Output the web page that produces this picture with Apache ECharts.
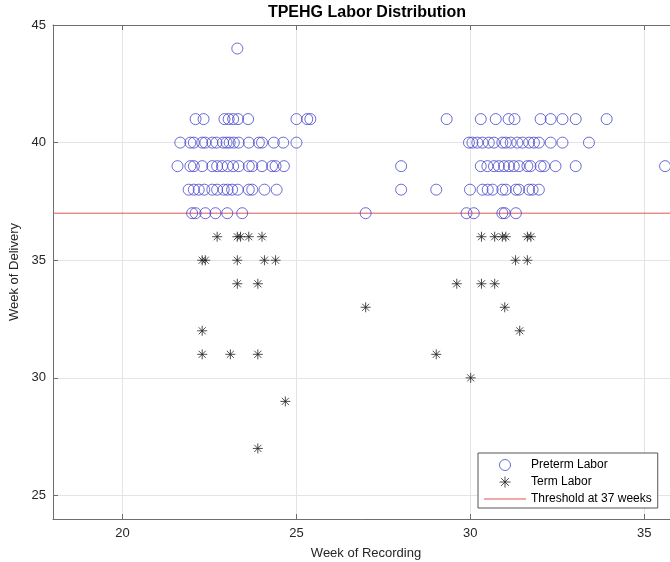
<!DOCTYPE html>
<html>
<head>
<meta charset="utf-8">
<script src="https://cdn.jsdelivr.net/npm/echarts@6/dist/echarts.min.js"></script>
<style>
html,body{margin:0;padding:0;background:#fff;}
#chart{width:670px;height:562px;}
</style>
</head>
<body>
<div id="chart"></div>
<script>
// Preterm Labor (circles): week of recording values grouped by week of delivery
const pre44 = [23.30];
const pre41 = [22.10, 22.33, 22.93, 23.05, 23.18, 23.32, 23.61, 25.00, 25.31, 25.40, 29.32, 30.30, 30.73, 31.10, 31.27, 32.02, 32.31, 32.65, 33.03, 33.92];
const pre40 = [21.66, 21.95, 22.05, 22.29, 22.38, 22.58, 22.70, 22.89, 22.99, 23.08, 23.20, 23.34, 23.63, 23.92, 24.01, 24.35, 24.62, 25.00, 29.96, 30.06, 30.20, 30.35, 30.53, 30.68, 30.92, 31.02, 31.16, 31.35, 31.50, 31.69, 31.83, 31.97, 32.31, 32.65, 33.41];
const pre39 = [21.58, 21.95, 22.05, 22.29, 22.58, 22.72, 22.86, 23.02, 23.18, 23.34, 23.63, 23.73, 24.01, 24.30, 24.40, 24.64, 28.01, 30.30, 30.49, 30.68, 30.82, 30.97, 31.11, 31.25, 31.40, 31.64, 31.73, 32.02, 32.12, 32.45, 33.03, 35.60];
const pre38 = [21.90, 22.05, 22.19, 22.35, 22.58, 22.72, 22.91, 23.02, 23.15, 23.31, 23.63, 23.73, 24.08, 24.43, 28.01, 29.02, 29.99, 30.35, 30.50, 30.64, 30.92, 31.02, 31.31, 31.40, 31.69, 31.79, 31.97];
const pre37 = [22.00, 22.10, 22.38, 22.67, 23.01, 23.44, 26.99, 29.89, 30.10, 30.92, 30.99, 31.31];

// Term Labor (asterisks)
const term36 = [22.72, 23.30, 23.39, 23.63, 24.01, 30.32, 30.70, 30.92, 31.02, 31.64, 31.74];
const term35 = [22.29, 22.38, 23.30, 24.08, 24.40, 31.30, 31.64];
const term34 = [23.30, 23.89, 29.61, 30.32, 30.70];
const term33 = [26.99, 30.99];
const term32 = [22.29, 31.42];
const term31 = [22.29, 23.10, 23.89, 29.02];
const term30 = [30.01];
const term29 = [24.68];
const term27 = [23.89];

const threshold = [37];
const xRange = [18, 36];
const yRange = [24, 45];

function rows(list) {
  const out = [];
  list.forEach(([week, xs]) => xs.forEach(x => out.push([x, week])));
  return out;
}
const pretermData = rows([[44, pre44], [41, pre41], [40, pre40], [39, pre39], [38, pre38], [37, pre37]]);
const termData = rows([[36, term36], [35, term35], [34, term34], [33, term33], [32, term32], [31, term31], [30, term30], [29, term29], [27, term27]]);
const thresholdData = [[xRange[0], threshold[0]], [xRange[1], threshold[0]]];

const FONT = '"Liberation Sans", Arial, Helvetica, sans-serif';
const axisGray = '#6e6e6e';
const textCol = '#262626';
const starPath = 'path://M5 0 L5 10 M0 5 L10 5 M1.46 1.46 L8.54 8.54 M1.46 8.54 L8.54 1.46';
const hideNonFive = v => (Math.abs(v % 5) < 1e-9 ? String(v) : '');

const chart = echarts.init(document.getElementById('chart'), null, {renderer: 'canvas'});
chart.setOption({
  animation: false,
  backgroundColor: '#fff',
  title: {
    text: 'TPEHG Labor Distribution',
    left: 362, top: 0, textAlign: 'center',
    textStyle: {fontFamily: FONT, fontWeight: 'bold', fontSize: 16, color: '#000'}
  },
  grid: {left: 53, top: 25, right: -9, bottom: 43, containLabel: false, outerBoundsMode: 'none'},
  legend: {
    orient: 'vertical',
    left: 478, top: 453,
    padding: [6, 6, 3, 6],
    itemWidth: 42, itemHeight: 11, itemGap: 5,
    backgroundColor: '#fff',
    borderColor: '#555', borderWidth: 1,
    textStyle: {fontFamily: FONT, fontSize: 12, color: '#000'},
    data: [
      {name: 'Preterm Labor', itemStyle: {borderWidth: 1}},
      {name: 'Term Labor', itemStyle: {borderWidth: 1}},
      {name: 'Threshold at 37 weeks', icon: 'path://M0 0 L42 0 L42 1 L0 1 Z', itemStyle: {color: '#e05555', borderWidth: 0}}
    ]
  },
  xAxis: [{
    type: 'value', min: xRange[0], max: xRange[1], splitNumber: 4,
    name: 'Week of Recording', nameLocation: 'middle', nameGap: 28,
    nameTextStyle: {fontFamily: FONT, fontSize: 13, color: textCol},
    axisLine: {show: true, lineStyle: {color: axisGray, width: 1}},
    axisTick: {show: true, inside: true, length: 5, lineStyle: {color: axisGray}},
    axisLabel: {fontFamily: FONT, fontSize: 13, color: textCol, margin: 8, formatter: hideNonFive},
    splitLine: {show: true, lineStyle: {color: '#e4e4e4', width: 1}}
  }, {
    type: 'value', min: xRange[0], max: xRange[1], splitNumber: 4, position: 'top',
    axisLine: {show: true, lineStyle: {color: axisGray, width: 1}},
    axisTick: {show: true, inside: true, length: 5, lineStyle: {color: axisGray}},
    axisLabel: {show: false},
    splitLine: {show: false}
  }],
  yAxis: [{
    type: 'value', min: yRange[0], max: yRange[1], splitNumber: 4,
    name: 'Week of Delivery', nameLocation: 'middle', nameGap: 20, nameRotate: 90,
    nameTextStyle: {fontFamily: FONT, fontSize: 13, color: textCol},
    axisLine: {show: true, lineStyle: {color: axisGray, width: 1}},
    axisTick: {show: true, inside: true, length: 5, lineStyle: {color: axisGray}},
    axisLabel: {fontFamily: FONT, fontSize: 13, color: textCol, margin: 7, formatter: hideNonFive},
    splitLine: {show: true, lineStyle: {color: '#e4e4e4', width: 1}}
  }],
  series: [{
    name: 'Preterm Labor', type: 'scatter', xAxisIndex: 0, yAxisIndex: 0,
    symbol: 'circle', symbolSize: 11,
    itemStyle: {color: 'rgba(0,0,0,0)', borderColor: '#4646cc', borderWidth: 1},
    data: pretermData, z: 3
  }, {
    name: 'Term Labor', type: 'scatter', xAxisIndex: 0, yAxisIndex: 0,
    symbol: starPath, symbolSize: 10, symbolKeepAspect: true,
    itemStyle: {color: 'rgba(0,0,0,0)', borderColor: '#222', borderWidth: 1},
    data: termData, z: 3
  }, {
    name: 'Threshold at 37 weeks', type: 'line', xAxisIndex: 0, yAxisIndex: 0,
    symbol: 'none', showSymbol: false,
    lineStyle: {color: '#e05555', width: 1},
    itemStyle: {color: '#e05555'},
    data: thresholdData, z: 2
  }]
});
</script>
</body>
</html>
